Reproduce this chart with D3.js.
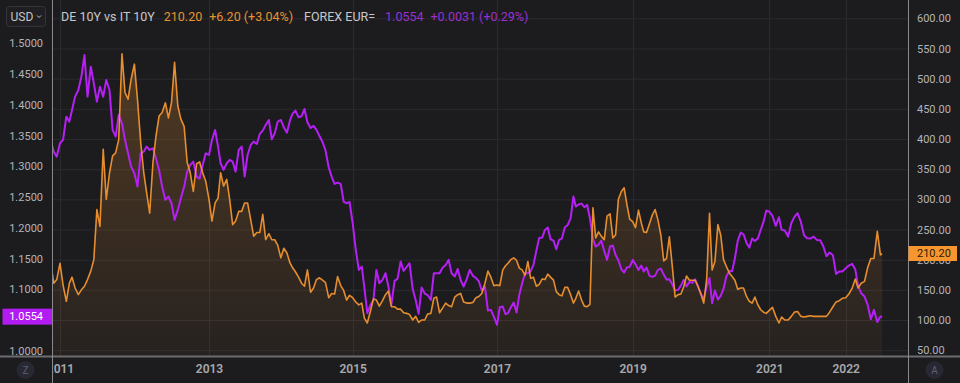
<!DOCTYPE html>
<html><head><meta charset="utf-8">
<script src="https://cdn.jsdelivr.net/npm/d3@7"></script>
<style>html,body{margin:0;padding:0;background:#1c1c1f;overflow:hidden}svg{display:block}</style>
</head><body><svg id="c" width="960" height="383"></svg>
<script>
// ---------------- DATA (semi-monthly readings) ----------------
const dates = [
"2010-11-16","2010-12-01","2010-12-16",
"2011-01-01","2011-01-16","2011-02-01","2011-02-16","2011-03-01","2011-03-16","2011-04-01","2011-04-16","2011-05-01","2011-05-16","2011-06-01","2011-06-16","2011-07-01","2011-07-16","2011-08-01","2011-08-16","2011-09-01","2011-09-16","2011-10-01","2011-10-16","2011-11-01","2011-11-16","2011-12-01","2011-12-16",
"2012-01-01","2012-01-16","2012-02-01","2012-02-16","2012-03-01","2012-03-16","2012-04-01","2012-04-16","2012-05-01","2012-05-16","2012-06-01","2012-06-16","2012-07-01","2012-07-16","2012-08-01","2012-08-16","2012-09-01","2012-09-16","2012-10-01","2012-10-16","2012-11-01","2012-11-16","2012-12-01","2012-12-16",
"2013-01-01","2013-01-16","2013-02-01","2013-02-16","2013-03-01","2013-03-16","2013-04-01","2013-04-16","2013-05-01","2013-05-16","2013-06-01","2013-06-16","2013-07-01","2013-07-16","2013-08-01","2013-08-16","2013-09-01","2013-09-16","2013-10-01","2013-10-16","2013-11-01","2013-11-16","2013-12-01","2013-12-16",
"2014-01-01","2014-01-16","2014-02-01","2014-02-16","2014-03-01","2014-03-16","2014-04-01","2014-04-16","2014-05-01","2014-05-16","2014-06-01","2014-06-16","2014-07-01","2014-07-16","2014-08-01","2014-08-16","2014-09-01","2014-09-16","2014-10-01","2014-10-16","2014-11-01","2014-11-16","2014-12-01","2014-12-16",
"2015-01-01","2015-01-16","2015-02-01","2015-02-16","2015-03-01","2015-03-16","2015-04-01","2015-04-16","2015-05-01","2015-05-16","2015-06-01","2015-06-16","2015-07-01","2015-07-16","2015-08-01","2015-08-16","2015-09-01","2015-09-16","2015-10-01","2015-10-16","2015-11-01","2015-11-16","2015-12-01","2015-12-16",
"2016-01-01","2016-01-16","2016-02-01","2016-02-16","2016-03-01","2016-03-16","2016-04-01","2016-04-16","2016-05-01","2016-05-16","2016-06-01","2016-06-16","2016-07-01","2016-07-16","2016-08-01","2016-08-16","2016-09-01","2016-09-16","2016-10-01","2016-10-16","2016-11-01","2016-11-16","2016-12-01","2016-12-16",
"2017-01-01","2017-01-16","2017-02-01","2017-02-16","2017-03-01","2017-03-16","2017-04-01","2017-04-16","2017-05-01","2017-05-16","2017-06-01","2017-06-16","2017-07-01","2017-07-16","2017-08-01","2017-08-16","2017-09-01","2017-09-16","2017-10-01","2017-10-16","2017-11-01","2017-11-16","2017-12-01","2017-12-16",
"2018-01-01","2018-01-16","2018-02-01","2018-02-16","2018-03-01","2018-03-16","2018-04-01","2018-04-16","2018-05-01","2018-05-16","2018-06-01","2018-06-16","2018-07-01","2018-07-16","2018-08-01","2018-08-16","2018-09-01","2018-09-16","2018-10-01","2018-10-16","2018-11-01","2018-11-16","2018-12-01","2018-12-16",
"2019-01-01","2019-01-16","2019-02-01","2019-02-16","2019-03-01","2019-03-16","2019-04-01","2019-04-16","2019-05-01","2019-05-16","2019-06-01","2019-06-16","2019-07-01","2019-07-16","2019-08-01","2019-08-16","2019-09-01","2019-09-16","2019-10-01","2019-10-16","2019-11-01","2019-11-16","2019-12-01","2019-12-16",
"2020-01-01","2020-01-16","2020-02-01","2020-02-16","2020-03-01","2020-03-16","2020-04-01","2020-04-16","2020-05-01","2020-05-16","2020-06-01","2020-06-16","2020-07-01","2020-07-16","2020-08-01","2020-08-16","2020-09-01","2020-09-16","2020-10-01","2020-10-16","2020-11-01","2020-11-16","2020-12-01","2020-12-16",
"2021-01-01","2021-01-16","2021-02-01","2021-02-16","2021-03-01","2021-03-16","2021-04-01","2021-04-16","2021-05-01","2021-05-16","2021-06-01","2021-06-16","2021-07-01","2021-07-16","2021-08-01","2021-08-16","2021-09-01","2021-09-16","2021-10-01","2021-10-16","2021-11-01","2021-11-16","2021-12-01","2021-12-16",
"2022-01-01","2022-01-16","2022-02-01","2022-02-16","2022-03-01","2022-03-16","2022-04-01","2022-04-16","2022-05-01","2022-05-16","2022-06-01","2022-06-16","2022-06-24"
];

// DE 10Y vs IT 10Y spread (bp), right axis
const spread = [
197,161,167,
194,158,131,161,171,153,142,150,156,167,181,200,283,255,383,300,344,372,377,399,541,477,466,499,
524,466,394,344,311,277,361,405,438,444,460,435,460,527,455,433,421,361,344,313,359,362,344,330,
300,264,294,302,344,322,333,300,258,264,280,280,294,294,266,239,245,245,275,233,243,233,233,224,
203,219,211,195,187,180,171,161,156,183,146,153,167,170,166,162,137,144,143,172,157,149,133,141,
137,130,125,128,103,95,115,135,133,123,132,142,148,122,122,118,118,112,111,109,100,106,96,100,
100,110,111,136,138,112,120,128,124,122,138,142,144,130,128,128,129,137,139,144,161,181,171,157,
158,157,183,190,194,200,203,199,186,183,174,197,169,171,156,159,168,167,176,171,166,147,142,140,
154,154,142,128,136,148,133,123,122,126,286,236,246,239,233,272,276,236,241,300,313,319,291,267,
263,253,282,261,246,245,260,274,283,266,240,198,202,238,189,138,142,143,155,173,166,166,166,156,
143,128,168,277,183,197,258,241,200,189,178,172,166,151,153,153,139,131,128,138,125,117,113,111,
116,121,106,95,105,100,100,106,113,114,106,105,106,107,106,106,106,106,106,113,122,130,132,136,
137,143,153,168,153,161,164,187,202,202,247,208,210.2
];

// FOREX EUR= (EUR/USD), left axis
const eurusd = [
1.3428,1.3238,1.3157,
1.3374,1.3428,1.3807,1.3726,1.3916,1.4133,1.4241,1.4458,1.4810,1.4133,1.4620,1.4349,1.4051,1.4295,1.4133,1.4404,1.4241,1.3591,1.3482,1.3835,1.3699,1.3428,1.3211,1.2994,
1.2886,1.2669,1.3211,1.3238,1.3320,1.3265,1.3292,1.3130,1.2940,1.2669,1.2452,1.2507,1.2398,1.2127,1.2290,1.2480,1.2669,1.2913,1.3021,1.3076,1.2832,1.2799,1.3021,1.3211,
1.3184,1.3428,1.3591,1.3320,1.3049,1.2940,1.3049,1.3103,1.3076,1.2913,1.3265,1.3320,1.2832,1.3184,1.3347,1.3401,1.3363,1.3526,1.3580,1.3672,1.3753,1.3439,1.3536,1.3726,
1.3753,1.3634,1.3547,1.3742,1.3851,1.3905,1.3797,1.3813,1.3932,1.3715,1.3623,1.3656,1.3591,1.3493,1.3395,1.3255,1.2984,1.2832,1.2713,1.2734,1.2713,1.2425,1.2398,1.2420,
1.2073,1.1656,1.1314,1.1368,1.1032,1.0610,1.0745,1.0826,1.1314,1.1097,1.1152,1.1260,1.1043,1.0745,1.1135,1.1168,1.1450,1.1298,1.1358,1.1423,1.0999,1.0826,1.0599,1.1027,
1.0929,1.0902,1.0826,1.1260,1.1260,1.1260,1.1352,1.1395,1.1477,1.1260,1.1206,1.1330,1.1146,1.1043,1.1168,1.1314,1.1217,1.1184,1.1130,1.0978,1.1043,1.0653,1.0664,1.0555,
1.0420,1.0707,1.0718,1.0593,1.0610,1.0702,1.0783,1.0621,1.0908,1.1092,1.1260,1.1260,1.1293,1.1395,1.1629,1.1835,1.1840,1.1965,1.2003,1.1813,1.1791,1.1650,1.1802,1.1824,
1.2008,1.2041,1.2154,1.2507,1.2344,1.2377,1.2393,1.2333,1.2371,1.2154,1.1818,1.1694,1.1721,1.1791,1.1623,1.1477,1.1694,1.1710,1.1558,1.1471,1.1325,1.1271,1.1358,1.1363,
1.1477,1.1406,1.1314,1.1385,1.1287,1.1352,1.1217,1.1200,1.1222,1.1314,1.1336,1.1238,1.1157,1.1162,1.1081,1.0978,1.0989,1.1059,1.1152,1.1043,1.1119,1.1103,1.1162,1.1049,
1.0924,1.0837,1.1043,1.1179,1.0772,1.0978,1.0832,1.0891,1.1005,1.1206,1.1298,1.1293,1.1504,1.1786,1.1921,1.1894,1.1753,1.1677,1.1824,1.1786,1.1824,1.1965,1.2095,1.2279,
1.2263,1.2192,1.2030,1.2171,1.1965,1.1954,1.1856,1.2073,1.2176,1.2236,1.2095,1.1878,1.1829,1.1824,1.1856,1.1802,1.1797,1.1699,1.1536,1.1596,1.1553,1.1249,1.1287,1.1287,
1.1341,1.1385,1.1412,1.1320,1.1054,1.0935,1.0881,1.0745,1.0512,1.0664,1.0469,1.0555,1.0554
];

const yearTicks = ["2011-01-01","2013-01-01","2015-01-01","2017-01-01","2019-01-01","2021-01-01","2022-01-01"];
const leftTicks = [1.00,1.05,1.10,1.15,1.20,1.25,1.30,1.35,1.40,1.45,1.50];
const rightTicks = [50,100,150,200,250,300,350,400,450,500,550,600];
const spreadName = "DE 10Y vs IT 10Y", spreadLast = "210.20", spreadChg = "+6.20 (+3.04%)";
const fxName = "FOREX EUR=", fxLast = "1.0554", fxChg = "+0.0031 (+0.29%)";
const currency = "USD";

// ---------------- LAYOUT ----------------
const W = 960, H = 383;
const plotL = 52, plotR = 908, plotB = 356;
const C = {bg:"#1c1c1f", grid:"#2b2b2f", border:"#8a8a8e", text:"#b4b4b6", orange:"#f0932f", purple:"#b61ff5", purpleTxt:"#9b2fd0"};
const font = "Roboto, 'Noto Sans', sans-serif";

const parse = d3.utcParse("%Y-%m-%d");
const data = dates.map((d,i)=>({date:parse(d), spread:spread[i], fx:eurusd[i]}));

// index-like time axis (piecewise linear between year marks)
const xBreaks = ["2010-01-01","2011-01-01","2013-01-01","2015-01-01","2017-01-01","2019-01-01","2021-01-01","2022-01-01","2023-01-01"].map(parse);
const x = d3.scaleUtc().domain(xBreaks).range([-14.5,60,209,352.7,497,632.7,769.3,845.7,922.1]);
const yL = d3.scaleLinear().domain([1.0,1.5]).range([350.7,43.3]);
const yR = d3.scaleLinear().domain([100,600]).range([320,18.3]);

const svg = d3.select("#c");
svg.append("rect").attr("width",W).attr("height",H).attr("fill",C.bg);

const defs = svg.append("defs");
defs.append("clipPath").attr("id","plotClip").append("rect").attr("x",plotL).attr("y",0).attr("width",plotR-plotL).attr("height",plotB);
defs.append("clipPath").attr("id","xClip").append("rect").attr("x",plotL+1).attr("y",plotB).attr("width",plotR-plotL-1).attr("height",H-plotB);
const grad = defs.append("linearGradient").attr("id","og").attr("x1",0).attr("x2",0)
  .attr("gradientUnits","userSpaceOnUse").attr("y1",40).attr("y2",plotB);
grad.append("stop").attr("offset","0%").attr("stop-color",C.orange).attr("stop-opacity",0.26);
grad.append("stop").attr("offset","100%").attr("stop-color",C.orange).attr("stop-opacity",0.05);

// gridlines
const grid = svg.append("g").attr("clip-path","url(#plotClip)");
grid.selectAll("line.h").data(rightTicks).join("line")
  .attr("x1",plotL).attr("x2",plotR).attr("y1",d=>yR(d)+0.5).attr("y2",d=>yR(d)+0.5)
  .attr("stroke",C.grid).attr("stroke-width",1);
grid.selectAll("line.v").data(yearTicks.map(parse)).join("line")
  .attr("x1",d=>Math.round(x(d))+0.5).attr("x2",d=>Math.round(x(d))+0.5).attr("y1",0).attr("y2",plotB)
  .attr("stroke",C.grid).attr("stroke-width",1);

// series
const plot = svg.append("g").attr("clip-path","url(#plotClip)");
plot.append("path").datum(data)
  .attr("d", d3.area().x(d=>x(d.date)).y0(plotB).y1(d=>yR(d.spread)))
  .attr("fill","url(#og)");
plot.append("path").datum(data)
  .attr("d", d3.line().x(d=>x(d.date)).y(d=>yL(d.fx)))
  .attr("fill","none").attr("stroke",C.purple).attr("stroke-width",2).attr("stroke-linejoin","round");
plot.append("path").datum(data)
  .attr("d", d3.line().x(d=>x(d.date)).y(d=>yR(d.spread)))
  .attr("fill","none").attr("stroke",C.orange).attr("stroke-width",1.6).attr("stroke-linejoin","round").attr("opacity",0.95);

// borders
svg.append("line").attr("x1",0).attr("x2",W).attr("y1",plotB+0.5).attr("y2",plotB+0.5).attr("stroke","#6c6c70").attr("stroke-width",2);
svg.append("line").attr("x1",plotL+0.5).attr("x2",plotL+0.5).attr("y1",0).attr("y2",H).attr("stroke",C.border).attr("stroke-width",1);
svg.append("line").attr("x1",plotR+0.5).attr("x2",plotR+0.5).attr("y1",0).attr("y2",H).attr("stroke",C.border).attr("stroke-width",1);

// left axis
const axL = svg.append("g").attr("transform",`translate(${plotL-9},0)`)
  .call(d3.axisLeft(yL).tickValues(leftTicks).tickFormat(d3.format(".4f")).tickSize(0).tickPadding(0));
axL.select(".domain").remove();
axL.selectAll("text").attr("fill",C.text).style("font-family",font).style("font-size","11px");

// right axis
const axR = svg.append("g").attr("transform",`translate(${plotR+9},0)`)
  .call(d3.axisRight(yR).tickValues(rightTicks).tickFormat(d3.format(".2f")).tickSize(0).tickPadding(0));
axR.select(".domain").remove();
axR.selectAll("text").attr("fill",C.text).style("font-family",font).style("font-size","11px");

// bottom axis
const axB = svg.append("g").attr("clip-path","url(#xClip)").append("g").attr("transform",`translate(0,${plotB+4})`)
  .call(d3.axisBottom(x).tickValues(yearTicks.map(parse)).tickFormat(d3.utcFormat("%Y")).tickSize(0).tickPadding(4));
axB.select(".domain").remove();
axB.selectAll("text").attr("fill","#a9a9ac").style("font-family",font).style("font-size","12px").style("font-weight","600");

// price tags
const tagR = svg.append("g");
tagR.append("rect").attr("x",plotR+0.5).attr("y",yR(210.2)-7.5).attr("width",48.5).attr("height",15).attr("fill","#f7962f");
tagR.append("text").attr("x",plotR+9).attr("y",yR(210.2)).attr("dy","0.35em").text(spreadLast)
  .attr("fill","#2b1a06").style("font-family",font).style("font-size","11px");
const tagL = svg.append("g");
tagL.append("rect").attr("x",2.5).attr("y",yL(1.0554)-8).attr("width",plotL-2.5).attr("height",16).attr("fill","#b21cf2");
tagL.append("text").attr("x",plotL-9).attr("y",yL(1.0554)).attr("dy","0.35em").attr("text-anchor","end").text(fxLast)
  .attr("fill","#ffffff").style("font-family",font).style("font-size","11px");

// legend
const lg = svg.append("g").style("font-family",font).style("font-size","12.5px");
lg.append("rect").attr("x",6.5).attr("y",6.5).attr("width",39).attr("height",20).attr("rx",3)
  .attr("fill","#1f1f23").attr("stroke","#34343a");
lg.append("text").attr("x",10.5).attr("y",21).text(currency).attr("fill","#c4c4c6").style("font-size","12px");
lg.append("path").attr("d","M37,15.5 l2,2 l2,-2").attr("fill","none").attr("stroke","#c4c4c6").attr("stroke-width",1);
const row = [
  [spreadName, "#c8c8ca", 0], [spreadLast, "#e8922f", 9], [spreadChg, "#e8922f", 7],
  [fxName, "#c8c8ca", 11], [fxLast, C.purpleTxt, 10], [fxChg, C.purpleTxt, 7]
];
let cx = 61;
row.forEach(([t,col,gap])=>{
  cx += gap;
  const el = lg.append("text").attr("x",cx).attr("y",21).text(t).attr("fill",col);
  cx += el.node().getComputedTextLength();
});

// corner buttons
[[25.5,"Z"],[934.5,"A"]].forEach(([bx,t])=>{
  svg.append("circle").attr("cx",bx).attr("cy",370).attr("r",9).attr("fill","#272833");
  svg.append("text").attr("x",bx).attr("y",370).attr("dy","0.35em").attr("text-anchor","middle").text(t)
    .attr("fill","#5f6170").style("font-family",font).style("font-size","10px");
});
</script></body></html>
